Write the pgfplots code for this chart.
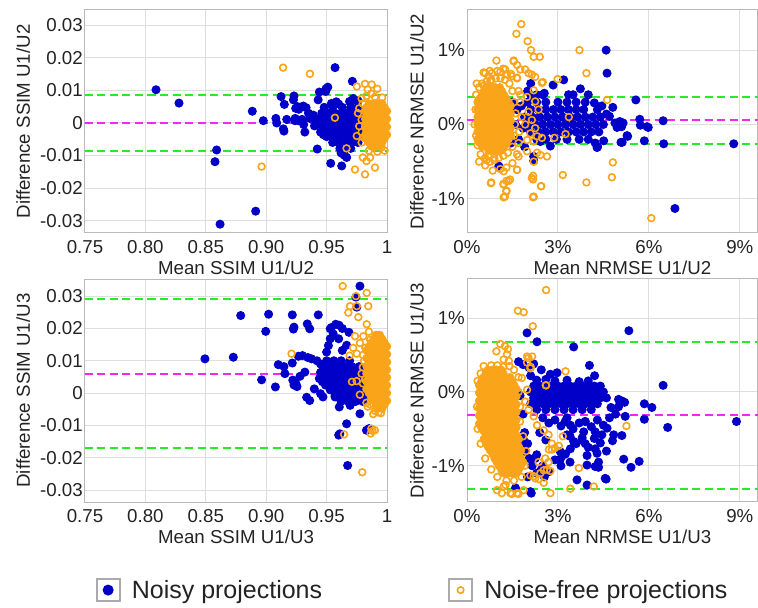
\documentclass[border=0pt]{standalone}
\usepackage{fontspec}
\setmainfont{Liberation Sans}
\usepackage{pgfplots}
\pgfplotsset{compat=1.18}
\definecolor{nblue}{RGB}{0,0,200}
\definecolor{norange}{RGB}{250,165,25}
\definecolor{lgreen}{RGB}{40,235,40}
\definecolor{lmag}{RGB}{240,40,240}
\definecolor{txt}{RGB}{35,35,35}
\definecolor{gridc}{RGB}{222,222,222}
\definecolor{framec}{RGB}{185,185,185}
\definecolor{legbox}{RGB}{170,170,170}
\pgfplotsset{
 ba/.style={scale only axis, anchor=south west,
  axis line style={framec, line width=1pt},
  grid=major, major grid style={gridc, line width=1pt},
  major tick length=0pt, scaled ticks=false,
  tick label style={font=\fontsize{18.7}{20}\selectfont, text=txt},
  xticklabel style={anchor=center, yshift=-14pt},
  yticklabel style={anchor=east, inner xsep=0pt, xshift=-2pt},
  every axis y label/.style={rotate=90, anchor=center, font=\fontsize{18.7}{20}\selectfont, text=txt},
  every axis x label/.style={anchor=center, font=\fontsize{18.7}{20}\selectfont, text=txt},
 },
 ssim/.style={ba, width=302pt, height=223pt, xmin=0.75, xmax=1.0,
  xtick={0.75,0.80,0.85,0.90,0.95,1}, xticklabels={0.75,0.80,0.85,0.90,0.95,1},
  ytick={-0.03,-0.02,-0.01,0,0.01,0.02,0.03}, yticklabels={-0.03,-0.02,-0.01,0,0.01,0.02,0.03},
  xlabel style={at={(axis description cs:0.5,0)}, yshift=-35pt},
  ylabel style={at={(axis description cs:-0.205,0.5)}}},
 nrmse/.style={ba, width=291pt, height=223pt, xmin=0, xmax=9.6,
  xtick={0,3,6,9}, xticklabels={0\%,3\%,6\%,9\%},
  ytick={-1,0,1}, yticklabels={-1\%,0\%,1\%},
  xlabel style={at={(axis description cs:0.534,0)}, yshift=-35pt},
  ylabel style={at={(axis description cs:-0.172,0.5)}}},
 noisy/.style={only marks, mark=*, mark size=4pt, color=nblue, mark options={draw=nblue, fill=nblue, line width=1pt}},
 nfree/.style={only marks, mark=o, mark size=3.4pt, color=norange, mark options={draw=norange, line width=1.6pt}},
 nfcore/.style={only marks, mark=*, mark size=3.4pt, color=norange, mark options={draw=norange, fill=norange, line width=1.6pt}, forget plot},
 gline/.style={lgreen, line width=2pt, dash pattern=on 8pt off 4.5pt, forget plot},
 mline/.style={lmag, line width=2pt, dash pattern=on 8pt off 4.5pt, forget plot},
}
\begin{document}
\begin{tikzpicture}
\path[use as bounding box] (0pt,0pt) rectangle (758pt,608pt);
% ---------------- Panel 1
\begin{axis}[ssim, at={(85pt,375pt)}, ymin=-0.0338, ymax=0.0347,
 xlabel={Mean SSIM U1/U2}, ylabel={Difference SSIM U1/U2}]
\addplot[noisy] coordinates {(0.8088,0.0102)(0.8278,0.0061)(0.8590,-0.0083)(0.8576,-0.0119)(0.8618,-0.0311)(0.8913,-0.0271)(0.8885,0.0036)(0.8976,0.0007)(0.9080,0.0014)(0.9087,0.0000)(0.9123,0.0081)(0.9150,0.0057)(0.9142,-0.0018)(0.9147,-0.0025)(0.9170,0.0011)(0.9230,0.0083)(0.9225,0.0071)(0.9244,0.0045)(0.9260,0.0050)(0.9240,0.0014)(0.9270,0.0042)(0.9296,0.0011)(0.9307,0.0052)(0.9330,0.0047)(0.9320,-0.0028)(0.9362,0.0014)(0.9390,0.0024)(0.9400,-0.0009)(0.9423,-0.0080)(0.9430,0.0071)(0.9440,0.0095)(0.9460,0.0019)(0.9473,-0.0036)(0.9495,0.0105)(0.9510,0.0110)(0.9534,-0.0124)(0.9570,0.0170)(0.9625,-0.0132)(0.9640,-0.0096)(0.9666,-0.0106)(0.9713,0.0128)(0.9690,0.0066)(0.9238,0.0007)(0.9266,0.0007)(0.9403,0.0014)(0.9418,-0.0005)(0.9450,-0.0028)(0.9493,0.0097)(0.9540,0.0060)(0.9580,0.0065)(0.9600,0.0058)(0.9650,-0.0100)(0.9620,-0.0092)(0.9700,0.0063)(0.9720,0.0075)(0.9760,0.0068)(0.9350,0.0030)(0.9310,-0.0005)
(0.948,0.0048)(0.955,0.0048)(0.963,0.0048)(0.970,0.0048)(0.976,0.0048)
(0.946,0.0030)(0.951,0.0030)(0.957,0.0030)(0.962,0.0030)(0.967,0.0030)(0.973,0.0030)(0.978,0.0030)
(0.944,0.0012)(0.949,0.0012)(0.954,0.0012)(0.960,0.0012)(0.965,0.0012)(0.970,0.0012)(0.975,0.0012)(0.980,0.0012)
(0.946,-0.0006)(0.951,-0.0006)(0.957,-0.0006)(0.962,-0.0006)(0.968,-0.0006)(0.973,-0.0006)(0.978,-0.0006)(0.983,-0.0006)
(0.948,-0.0024)(0.953,-0.0024)(0.959,-0.0024)(0.964,-0.0024)(0.970,-0.0024)(0.975,-0.0024)(0.980,-0.0024)
(0.950,-0.0042)(0.956,-0.0042)(0.961,-0.0042)(0.967,-0.0042)(0.972,-0.0042)(0.978,-0.0042)
(0.955,-0.0060)(0.960,-0.0060)(0.966,-0.0060)(0.971,-0.0060)(0.976,-0.0060)
(0.961,-0.0078)(0.966,-0.0078)(0.970,-0.0078)};
\addplot[nfcore] coordinates {
(0.985,0.0060)(0.989,0.0060)(0.992,0.0060)(0.996,0.0060)
(0.983,0.0048)(0.987,0.0048)(0.991,0.0048)(0.994,0.0048)(0.998,0.0048)
(0.982,0.0036)(0.985,0.0036)(0.989,0.0036)(0.992,0.0036)(0.996,0.0036)(1.000,0.0036)
(0.983,0.0024)(0.987,0.0024)(0.991,0.0024)(0.994,0.0024)(0.998,0.0024)
(0.982,0.0012)(0.985,0.0012)(0.989,0.0012)(0.992,0.0012)(0.996,0.0012)(1.000,0.0012)
(0.983,0.0000)(0.987,0.0000)(0.991,0.0000)(0.994,0.0000)(0.998,0.0000)
(0.982,-0.0012)(0.985,-0.0012)(0.989,-0.0012)(0.992,-0.0012)(0.996,-0.0012)(1.000,-0.0012)
(0.983,-0.0024)(0.987,-0.0024)(0.991,-0.0024)(0.994,-0.0024)(0.998,-0.0024)
(0.982,-0.0036)(0.985,-0.0036)(0.989,-0.0036)(0.992,-0.0036)(0.996,-0.0036)(1.000,-0.0036)
(0.983,-0.0048)(0.987,-0.0048)(0.991,-0.0048)(0.994,-0.0048)(0.998,-0.0048)
(0.985,-0.0060)(0.989,-0.0060)(0.992,-0.0060)(0.996,-0.0060)
(0.987,-0.0072)(0.991,-0.0072)(0.994,-0.0072)};
\addplot[nfree] coordinates {(0.9140,0.0170)(0.9362,0.0151)(0.8962,-0.0134)(0.9569,0.0016)(0.9750,0.0112)(0.9818,0.0120)(0.9840,0.0103)(0.9873,0.0118)(0.9920,0.0105)(0.9870,0.0090)(0.9665,-0.0078)(0.9735,-0.0143)(0.9818,-0.0158)(0.9800,-0.0106)(0.9830,-0.0117)(0.9860,-0.0106)(0.9900,-0.0137)(0.9956,-0.0075)(0.9770,0.0045)(0.9790,-0.0028)(0.9830,-0.0047)(0.9790,0.0075)(0.9830,0.0083)(0.9900,0.0080)(0.9960,0.0078)(0.9790,-0.0060)(0.9850,-0.0085)(0.9920,-0.0088)(0.9980,-0.0085)(0.9760,0.0030)(0.9770,-0.0010)(0.9750,-0.0040)(0.9800,0.0060)(0.9790,0.0010)(0.9810,-0.0045)};
\addplot[gline] coordinates {(0.75,0.0087)(1,0.0087)};
\addplot[gline] coordinates {(0.75,-0.0086)(1,-0.0086)};
\addplot[mline] coordinates {(0.75,0.0001)(1,0.0001)};
\end{axis}
% ---------------- Panel 2
\begin{axis}[nrmse, at={(467pt,375pt)}, ymin=-1.46, ymax=1.54,
 xlabel={Mean NRMSE U1/U2}, ylabel={Difference NRMSE U1/U2}]
\addplot[noisy] coordinates {(4.59,1.00)(4.62,0.69)(5.57,0.33)(6.47,0.05)(5.94,-0.03)(5.70,0.07)(5.72,-0.01)(5.28,-0.15)(5.85,-0.22)(6.49,-0.26)(8.80,-0.26)(6.86,-1.13)(5.12,-0.24)(4.51,-0.22)(4.29,-0.31)(4.81,0.23)(4.20,0.29)(3.74,0.48)(4.00,0.40)(3.19,0.60)(2.84,0.53)(2.10,0.55)(2.00,0.45)(2.11,0.39)(1.05,-0.56)(2.20,-0.49)(2.20,-0.43)(2.75,-0.29)(2.42,-0.23)(4.23,-0.25)(4.31,-0.30)(4.70,0.11)(4.60,0.14)(4.88,0.02)(5.04,0.04)(5.15,0.02)(4.95,-0.04)(5.10,-0.03)(5.30,-0.16)(5.08,-0.24)(5.98,-0.04)(4.45,0.25)(3.35,0.40)(2.55,0.42)
(1.50,0.30)(1.60,0.00)(1.70,-0.20)(1.45,-0.25)(1.65,0.20)(1.80,0.25)(1.85,-0.05)(1.90,-0.30)
(2.0,0.30)(2.3,0.30)(2.6,0.30)(3.0,0.30)(3.3,0.30)(3.6,0.30)(3.9,0.30)
(2.1,0.20)(2.35,0.20)(2.6,0.20)(2.85,0.20)(3.1,0.20)(3.35,0.20)(3.6,0.20)(3.85,0.20)(4.3,0.20)
(1.9,0.10)(2.15,0.10)(2.4,0.10)(2.65,0.10)(2.9,0.10)(3.15,0.10)(3.4,0.10)(3.65,0.10)(3.9,0.10)(4.15,0.10)(4.4,0.10)
(2.0,0.00)(2.25,0.00)(2.5,0.00)(2.75,0.00)(3.0,0.00)(3.25,0.00)(3.5,0.00)(3.75,0.00)(4.0,0.00)(4.25,0.00)(4.5,0.00)
(2.1,-0.10)(2.35,-0.10)(2.6,-0.10)(2.85,-0.10)(3.1,-0.10)(3.35,-0.10)(3.6,-0.10)(3.85,-0.10)(4.1,-0.10)(4.35,-0.10)
(2.3,-0.20)(2.6,-0.20)(2.95,-0.20)(3.3,-0.20)(3.7,-0.20)(4.0,-0.20)
(2.3,0.40)(2.5,0.40)(3.5,0.40)};
\addplot[nfcore] coordinates {
(0.64,0.50)(0.79,0.50)(0.93,0.50)(1.08,0.50)
(0.57,0.45)(0.71,0.45)(0.86,0.45)(1.00,0.45)(1.15,0.45)
(0.50,0.40)(0.64,0.40)(0.79,0.40)(0.93,0.40)(1.08,0.40)(1.22,0.40)
(0.42,0.35)(0.57,0.35)(0.71,0.35)(0.86,0.35)(1.00,0.35)(1.15,0.35)(1.29,0.35)
(0.35,0.30)(0.50,0.30)(0.64,0.30)(0.79,0.30)(0.93,0.30)(1.08,0.30)(1.22,0.30)(1.37,0.30)
(0.42,0.25)(0.57,0.25)(0.71,0.25)(0.86,0.25)(1.00,0.25)(1.15,0.25)(1.29,0.25)(1.44,0.25)
(0.35,0.20)(0.50,0.20)(0.64,0.20)(0.79,0.20)(0.93,0.20)(1.08,0.20)(1.22,0.20)(1.37,0.20)
(0.42,0.15)(0.57,0.15)(0.71,0.15)(0.86,0.15)(1.00,0.15)(1.15,0.15)(1.29,0.15)(1.44,0.15)
(0.35,0.10)(0.50,0.10)(0.64,0.10)(0.79,0.10)(0.93,0.10)(1.08,0.10)(1.22,0.10)(1.37,0.10)
(0.42,0.05)(0.57,0.05)(0.71,0.05)(0.86,0.05)(1.00,0.05)(1.15,0.05)(1.29,0.05)(1.44,0.05)
(0.35,0.00)(0.50,0.00)(0.64,0.00)(0.79,0.00)(0.93,0.00)(1.08,0.00)(1.22,0.00)(1.37,0.00)
(0.42,-0.05)(0.57,-0.05)(0.71,-0.05)(0.86,-0.05)(1.00,-0.05)(1.15,-0.05)(1.29,-0.05)(1.44,-0.05)
(0.35,-0.10)(0.50,-0.10)(0.64,-0.10)(0.79,-0.10)(0.93,-0.10)(1.08,-0.10)(1.22,-0.10)(1.37,-0.10)
(0.42,-0.15)(0.57,-0.15)(0.71,-0.15)(0.86,-0.15)(1.00,-0.15)(1.15,-0.15)(1.29,-0.15)(1.44,-0.15)
(0.35,-0.20)(0.50,-0.20)(0.64,-0.20)(0.79,-0.20)(0.93,-0.20)(1.08,-0.20)(1.22,-0.20)(1.37,-0.20)
(0.42,-0.25)(0.57,-0.25)(0.71,-0.25)(0.86,-0.25)(1.00,-0.25)(1.15,-0.25)(1.29,-0.25)
(0.50,-0.30)(0.64,-0.30)(0.79,-0.30)(0.93,-0.30)(1.08,-0.30)(1.22,-0.30)
(0.71,-0.35)(0.86,-0.35)(1.00,-0.35)(1.15,-0.35)};
\addplot[nfree] coordinates {(1.79,1.35)(1.63,1.22)(2.00,1.12)(2.11,1.00)(2.20,0.91)(2.40,0.91)(0.97,0.86)(1.54,0.86)(3.71,1.00)(3.94,0.69)(2.99,0.61)(2.50,0.57)(4.62,0.33)(3.36,0.10)(3.25,-0.13)(4.81,-0.51)(4.78,-0.71)(3.94,-0.78)(3.16,-0.68)(2.45,-0.83)(2.18,-0.69)(2.18,-0.74)(2.20,-0.97)(0.80,-0.78)(1.20,-0.80)(1.30,-0.76)(1.42,-0.74)(1.30,-0.89)(1.25,-0.97)(1.65,-0.61)(6.08,-1.26)
(1.70,-0.43)(1.98,-0.36)(2.31,-0.38)(2.42,-0.41)(2.20,-0.50)(2.14,-0.72)(2.44,-0.83)(2.18,-0.98)(1.21,-0.63)(1.65,-0.61)(1.37,-0.76)(1.21,-0.81)(1.30,-0.90)(1.21,-0.98)(0.79,-0.79)(0.75,-0.50)(0.90,-0.45)(0.65,-0.48)(0.70,-0.43)(2.88,-0.18)(1.76,0.40)(1.98,0.37)(2.20,0.46)(2.25,0.31)(2.36,0.20)(2.03,0.17)(2.14,0.06)(1.92,0.00)(2.25,-0.05)(2.09,-0.12)(2.31,-0.16)(2.20,-0.23)(2.47,-0.18)(1.98,-0.21)(2.64,-0.43)
(1.54,0.85)(1.65,0.80)(1.76,0.74)(1.92,0.74)(2.03,0.69)(2.14,0.67)(2.25,0.64)(0.60,0.69)(0.71,0.65)(0.82,0.69)(1.10,0.71)(1.26,0.74)(1.32,0.67)(1.48,0.65)(1.65,0.63)(0.55,0.52)(0.77,0.58)(2.47,0.56)
(0.30,0.40)(0.28,0.20)(0.25,0.00)(0.30,-0.15)(0.35,-0.28)(0.45,-0.40)(0.60,-0.45)(0.75,-0.50)(0.90,-0.48)(1.05,-0.45)(1.20,-0.42)(1.35,-0.38)(1.50,-0.30)(1.55,-0.15)(1.58,0.00)(1.60,0.15)(1.55,0.30)(1.50,0.45)(1.40,0.55)(1.25,0.60)(1.10,0.62)(0.95,0.62)(0.80,0.60)(0.65,0.58)(0.50,0.55)(0.40,0.50)
(0.55,0.70)(0.75,0.72)(1.00,0.72)(1.20,0.75)(1.45,0.68)(1.65,0.62)(1.70,0.45)(1.75,0.30)(1.80,0.10)(1.72,-0.10)(1.70,-0.25)(1.65,-0.40)(1.50,-0.52)(1.30,-0.58)(1.10,-0.60)(0.85,-0.62)(0.60,-0.55)(0.40,-0.50)(0.32,0.55)};
\addplot[gline] coordinates {(0,0.375)(9.6,0.375)};
\addplot[gline] coordinates {(0,-0.265)(9.6,-0.265)};
\addplot[mline] coordinates {(0,0.055)(9.6,0.055)};
\end{axis}
% ---------------- Panel 3
\begin{axis}[ssim, at={(85pt,106pt)}, ymin=-0.0337, ymax=0.0353,
 xlabel={Mean SSIM U1/U3}, ylabel={Difference SSIM U1/U3},
 legend style={at={(axis description cs:0.025,-0.395)}, anchor=west, draw=none, fill=none,
  font=\fontsize{25}{28}\selectfont, text=txt, legend columns=2,
  /tikz/every even column/.append style={column sep=124pt}},
 legend cell align=left,
 legend image code/.code={\draw[draw=legbox, line width=1.8pt, fill=white] (0pt,-11pt) rectangle (23pt,11pt);
  \draw[#1] plot coordinates {(11.5pt,0pt)};\path (33pt,0pt);}]
\addplot[noisy, legend image post style={mark size=5pt}] coordinates {(0.8493,0.0106)(0.8728,0.0111)(0.8789,0.0240)(0.8996,0.0191)(0.9020,0.0244)(0.8962,0.0041)(0.9076,0.0019)(0.9100,0.0088)(0.9147,0.0082)(0.9155,0.0060)(0.9216,0.0242)(0.9230,0.0204)(0.9225,0.0198)(0.9216,0.0093)(0.9220,0.0040)(0.9245,0.0030)(0.9255,0.0020)(0.9230,0.0025)(0.9266,0.0114)(0.9300,0.0116)(0.9345,0.0110)(0.9375,0.0106)(0.9340,0.0214)(0.9360,0.0199)(0.9280,0.0052)(0.9320,0.0065)(0.9335,-0.0013)(0.9360,-0.0023)(0.9398,0.0013)(0.9431,0.0242)(0.9420,0.0100)(0.9450,0.0090)(0.9475,0.0080)(0.9440,0.0045)(0.9465,0.0035)(0.9490,0.0025)(0.9450,-0.0002)(0.9470,-0.0012)(0.9500,0.0127)(0.9515,0.0147)(0.9530,0.0168)(0.9555,0.0183)(0.9530,0.0199)(0.9570,-0.0012)(0.9605,-0.0043)(0.9610,-0.0126)(0.9600,-0.0130)(0.9666,-0.0095)(0.9674,-0.0224)(0.9666,0.0148)(0.9630,0.0132)(0.9600,0.0168)(0.9685,0.0188)(0.9710,-0.0028)(0.9695,-0.0038)(0.9776,0.0331)(0.9750,0.0266)(0.9743,0.0297)(0.9776,-0.0064)(0.9850,-0.0110)(0.9830,-0.0115)(0.9576,0.0213)(0.9603,0.0210)(0.9630,0.0200)(0.9540,0.0203)
(0.950,0.0100)(0.956,0.0100)(0.962,0.0100)(0.969,0.0100)
(0.947,0.0082)(0.953,0.0082)(0.959,0.0082)(0.965,0.0082)(0.971,0.0082)(0.977,0.0082)
(0.945,0.0064)(0.950,0.0064)(0.956,0.0064)(0.962,0.0064)(0.968,0.0064)(0.974,0.0064)(0.980,0.0064)
(0.947,0.0046)(0.953,0.0046)(0.959,0.0046)(0.965,0.0046)(0.971,0.0046)(0.977,0.0046)(0.983,0.0046)
(0.950,0.0028)(0.956,0.0028)(0.962,0.0028)(0.968,0.0028)(0.974,0.0028)(0.980,0.0028)
(0.953,0.0010)(0.959,0.0010)(0.965,0.0010)(0.971,0.0010)(0.977,0.0010)(0.983,0.0010)
(0.957,-0.0008)(0.963,-0.0008)(0.969,-0.0008)(0.975,-0.0008)(0.981,-0.0008)
(0.962,-0.0026)(0.968,-0.0026)(0.974,-0.0026)(0.980,-0.0026)};
\addlegendentry{Noisy projections}
\addplot[nfree, legend image post style={mark size=3.2pt}] coordinates {(0.9633,0.0331)(0.9210,0.0122)(0.9645,-0.0128)(0.9795,-0.0245)(0.9743,0.0300)(0.9832,0.0310)(0.9845,0.0269)(0.9694,0.0269)(0.9750,0.0269)(0.9680,0.0249)(0.9763,0.0235)(0.9832,0.0213)(0.9735,0.0176)(0.9804,0.0176)(0.9720,0.0140)(0.9776,0.0155)(0.9750,0.0122)(0.9690,0.0116)(0.9749,0.0037)(0.9818,0.0042)(0.9710,0.0035)(0.9800,0.0030)(0.9775,-0.0005)(0.9859,-0.0035)(0.9830,-0.0030)(0.9886,-0.0065)(0.9900,-0.0055)(0.9930,-0.0060)(0.9950,-0.0062)(0.9870,-0.0110)(0.9880,-0.0117)(0.9900,-0.0115)(0.9865,-0.0125)(0.9840,-0.0042)(0.9800,0.0080)(0.9810,0.0100)(0.9790,0.0060)(0.9860,0.0165)(0.9850,0.0190)(0.9820,0.0140)(0.9800,0.0118)};
\addlegendentry{Noise-free projections}
\addplot[nfcore] coordinates {
(0.991,0.0180)(0.994,0.0180)
(0.989,0.0168)(0.992,0.0168)(0.996,0.0168)
(0.987,0.0156)(0.991,0.0156)(0.994,0.0156)(0.998,0.0156)
(0.985,0.0144)(0.989,0.0144)(0.992,0.0144)(0.996,0.0144)(1.000,0.0144)
(0.983,0.0132)(0.987,0.0132)(0.991,0.0132)(0.994,0.0132)(0.998,0.0132)
(0.985,0.0120)(0.989,0.0120)(0.992,0.0120)(0.996,0.0120)(1.000,0.0120)
(0.983,0.0108)(0.987,0.0108)(0.991,0.0108)(0.994,0.0108)(0.998,0.0108)
(0.985,0.0096)(0.989,0.0096)(0.992,0.0096)(0.996,0.0096)(1.000,0.0096)
(0.983,0.0084)(0.987,0.0084)(0.991,0.0084)(0.994,0.0084)(0.998,0.0084)
(0.985,0.0072)(0.989,0.0072)(0.992,0.0072)(0.996,0.0072)(1.000,0.0072)
(0.983,0.0060)(0.987,0.0060)(0.991,0.0060)(0.994,0.0060)(0.998,0.0060)
(0.985,0.0048)(0.989,0.0048)(0.992,0.0048)(0.996,0.0048)(1.000,0.0048)
(0.983,0.0036)(0.987,0.0036)(0.991,0.0036)(0.994,0.0036)(0.998,0.0036)
(0.985,0.0024)(0.989,0.0024)(0.992,0.0024)(0.996,0.0024)(1.000,0.0024)
(0.983,0.0012)(0.987,0.0012)(0.991,0.0012)(0.994,0.0012)(0.998,0.0012)
(0.985,0.0000)(0.989,0.0000)(0.992,0.0000)(0.996,0.0000)(1.000,0.0000)
(0.987,-0.0012)(0.991,-0.0012)(0.994,-0.0012)(0.998,-0.0012)
(0.989,-0.0024)(0.992,-0.0024)(0.996,-0.0024)(1.000,-0.0024)
(0.991,-0.0036)(0.994,-0.0036)(0.998,-0.0036)
(0.992,-0.0048)(0.996,-0.0048)};
\addplot[gline] coordinates {(0.75,0.029)(1,0.029)};
\addplot[gline] coordinates {(0.75,-0.0169)(1,-0.0169)};
\addplot[mline] coordinates {(0.75,0.006)(1,0.006)};
\end{axis}
% ---------------- Panel 4
\begin{axis}[nrmse, at={(467pt,106pt)}, ymin=-1.49, ymax=1.53,
 xlabel={Mean NRMSE U1/U3}, ylabel={Difference NRMSE U1/U3}]
\addplot[noisy] coordinates {(1.98,0.80)(2.31,0.68)(3.52,0.61)(5.34,0.83)(6.47,0.09)(4.04,0.36)(4.21,0.22)(2.97,0.26)(2.75,0.24)(2.45,0.30)(2.20,0.38)(2.05,0.33)(1.85,0.37)(1.70,0.41)(5.85,-0.16)(6.10,-0.21)(5.85,-0.37)(6.62,-0.48)(8.89,-0.40)(5.00,-0.10)(5.10,-0.12)(5.20,-0.14)(5.00,-0.20)(4.75,-0.21)(5.22,-0.33)(5.11,-0.59)(5.68,-0.94)(5.41,-1.02)(5.17,-0.91)(4.59,-1.18)(4.34,-1.02)(3.96,-0.86)(4.23,-0.77)(4.40,-0.69)(3.96,-1.26)(2.12,-1.37)(3.08,-0.91)(3.25,-0.84)(3.41,-0.77)(3.24,-0.40)(3.41,-0.45)(3.90,-0.40)(3.85,-0.54)(4.23,-0.54)(4.45,-0.58)(4.62,-0.49)(4.84,-0.58)(3.30,-0.58)(3.52,-0.67)(3.79,-0.65)(3.90,-0.70)(3.08,-0.81)(3.19,-0.85)(4.29,-0.83)(4.34,-0.95)(4.23,-1.01)(3.96,-0.99)(4.56,-1.17)(3.63,-1.19)(2.09,-1.35)
(2.15,-1.00)(2.30,-1.10)(2.45,-1.05)(2.55,-1.15)(2.70,-1.08)(2.25,-0.90)(1.85,-0.63)(2.00,-0.70)(1.90,-0.80)(2.05,-0.90)(1.80,-0.95)
(2.50,-0.35)(2.70,-0.42)(2.90,-0.38)(3.10,-0.46)(3.30,-0.35)(3.50,-0.50)(3.70,-0.42)(3.90,-0.40)(4.10,-0.47)(4.30,-0.38)(4.50,-0.45)(4.70,-0.35)(4.90,-0.30)(3.40,-0.60)(3.60,-0.70)(3.80,-0.62)(4.00,-0.75)(4.20,-0.63)(4.60,-0.80)(4.80,-0.66)(2.40,-0.55)(2.60,-0.65)(2.90,-0.92)(3.10,-1.00)(3.40,-0.95)(2.30,-0.85)(2.50,-1.00)
(2.3,0.16)(2.6,0.17)(2.9,0.15)(3.3,0.16)(3.7,0.14)(4.0,0.15)(2.10,0.22)
(2.2,0.08)(2.4,0.08)(2.6,0.08)(2.8,0.08)(3.0,0.08)(3.2,0.08)(3.4,0.08)(3.6,0.08)(3.8,0.08)(4.0,0.08)(4.2,0.08)(4.4,0.08)
(2.1,0.00)(2.3,0.00)(2.5,0.00)(2.7,0.00)(2.9,0.00)(3.1,0.00)(3.3,0.00)(3.5,0.00)(3.7,0.00)(3.9,0.00)(4.1,0.00)(4.3,0.00)(4.5,0.00)
(2.2,-0.08)(2.4,-0.08)(2.6,-0.08)(2.8,-0.08)(3.0,-0.08)(3.2,-0.08)(3.4,-0.08)(3.6,-0.08)(3.8,-0.08)(4.0,-0.08)(4.2,-0.08)(4.4,-0.08)(4.6,-0.08)
(2.1,-0.16)(2.3,-0.16)(2.5,-0.16)(2.7,-0.16)(2.9,-0.16)(3.1,-0.16)(3.3,-0.16)(3.5,-0.16)(3.7,-0.16)(3.9,-0.16)(4.1,-0.16)(4.3,-0.16)
(2.3,-0.24)(2.6,-0.24)(2.9,-0.24)(3.2,-0.24)(3.5,-0.24)(3.8,-0.24)(4.1,-0.24)
(1.75,-0.05)(1.85,-0.30)(1.90,-0.55)(1.80,-0.70)(1.70,-1.00)(2.00,-1.15)(1.60,-1.30)};
\addplot[nfcore] coordinates {
(0.69,0.30)(0.84,0.30)(0.98,0.30)(1.13,0.30)
(0.62,0.25)(0.76,0.25)(0.91,0.25)(1.05,0.25)(1.20,0.25)
(0.55,0.20)(0.69,0.20)(0.84,0.20)(0.98,0.20)(1.13,0.20)(1.27,0.20)(1.42,0.20)
(0.47,0.14)(0.62,0.14)(0.76,0.14)(0.91,0.14)(1.05,0.14)(1.20,0.14)(1.34,0.14)(1.49,0.14)
(0.40,0.09)(0.55,0.09)(0.69,0.09)(0.84,0.09)(0.98,0.09)(1.13,0.09)(1.27,0.09)(1.42,0.09)(1.56,0.09)
(0.47,0.04)(0.62,0.04)(0.76,0.04)(0.91,0.04)(1.05,0.04)(1.20,0.04)(1.34,0.04)(1.49,0.04)(1.63,0.04)
(0.40,-0.01)(0.55,-0.01)(0.69,-0.01)(0.84,-0.01)(0.98,-0.01)(1.13,-0.01)(1.27,-0.01)(1.42,-0.01)(1.56,-0.01)
(0.47,-0.06)(0.62,-0.06)(0.76,-0.06)(0.91,-0.06)(1.05,-0.06)(1.20,-0.06)(1.34,-0.06)(1.49,-0.06)(1.63,-0.06)
(0.40,-0.12)(0.55,-0.12)(0.69,-0.12)(0.84,-0.12)(0.98,-0.12)(1.13,-0.12)(1.27,-0.12)(1.42,-0.12)(1.56,-0.12)
(0.47,-0.17)(0.62,-0.17)(0.76,-0.17)(0.91,-0.17)(1.05,-0.17)(1.20,-0.17)(1.34,-0.17)(1.49,-0.17)(1.63,-0.17)
(0.40,-0.22)(0.55,-0.22)(0.69,-0.22)(0.84,-0.22)(0.98,-0.22)(1.13,-0.22)(1.27,-0.22)(1.42,-0.22)(1.56,-0.22)
(0.47,-0.27)(0.62,-0.27)(0.76,-0.27)(0.91,-0.27)(1.05,-0.27)(1.20,-0.27)(1.34,-0.27)(1.49,-0.27)(1.63,-0.27)
(0.40,-0.32)(0.55,-0.32)(0.69,-0.32)(0.84,-0.32)(0.98,-0.32)(1.13,-0.32)(1.27,-0.32)(1.42,-0.32)(1.56,-0.32)
(0.47,-0.38)(0.62,-0.38)(0.76,-0.38)(0.91,-0.38)(1.05,-0.38)(1.20,-0.38)(1.34,-0.38)(1.49,-0.38)(1.63,-0.38)
(0.40,-0.43)(0.55,-0.43)(0.69,-0.43)(0.84,-0.43)(0.98,-0.43)(1.13,-0.43)(1.27,-0.43)(1.42,-0.43)(1.56,-0.43)
(0.47,-0.48)(0.62,-0.48)(0.76,-0.48)(0.91,-0.48)(1.05,-0.48)(1.20,-0.48)(1.34,-0.48)(1.49,-0.48)(1.63,-0.48)
(0.55,-0.53)(0.69,-0.53)(0.84,-0.53)(0.98,-0.53)(1.13,-0.53)(1.27,-0.53)(1.42,-0.53)(1.56,-0.53)
(0.62,-0.58)(0.76,-0.58)(0.91,-0.58)(1.05,-0.58)(1.20,-0.58)(1.34,-0.58)(1.49,-0.58)(1.63,-0.58)
(0.55,-0.64)(0.69,-0.64)(0.84,-0.64)(0.98,-0.64)(1.13,-0.64)(1.27,-0.64)(1.42,-0.64)(1.56,-0.64)(1.71,-0.64)
(0.62,-0.69)(0.76,-0.69)(0.91,-0.69)(1.05,-0.69)(1.20,-0.69)(1.34,-0.69)(1.49,-0.69)(1.63,-0.69)
(0.69,-0.74)(0.84,-0.74)(0.98,-0.74)(1.13,-0.74)(1.27,-0.74)(1.42,-0.74)(1.56,-0.74)(1.71,-0.74)
(0.76,-0.79)(0.91,-0.79)(1.05,-0.79)(1.20,-0.79)(1.34,-0.79)(1.49,-0.79)(1.63,-0.79)(1.78,-0.79)
(0.84,-0.84)(0.98,-0.84)(1.13,-0.84)(1.27,-0.84)(1.42,-0.84)(1.56,-0.84)(1.71,-0.84)
(0.91,-0.90)(1.05,-0.90)(1.20,-0.90)(1.34,-0.90)(1.49,-0.90)(1.63,-0.90)(1.78,-0.90)
(0.98,-0.95)(1.13,-0.95)(1.27,-0.95)(1.42,-0.95)(1.56,-0.95)(1.71,-0.95)(1.85,-0.95)
(1.05,-1.00)(1.20,-1.00)(1.34,-1.00)(1.49,-1.00)(1.63,-1.00)(1.78,-1.00)
(1.13,-1.05)(1.27,-1.05)(1.42,-1.05)(1.56,-1.05)(1.71,-1.05)
(1.20,-1.10)(1.34,-1.10)(1.49,-1.10)(1.63,-1.10)};
\addplot[nfree] coordinates {(2.61,1.38)(1.68,1.10)(1.87,1.08)(2.17,0.89)(1.10,0.65)(1.25,0.62)(1.35,0.58)(0.97,0.55)(1.32,0.51)(1.21,0.44)(1.38,0.42)(1.98,0.48)(2.15,0.48)(1.98,0.40)(2.10,0.34)(3.25,0.28)(2.61,0.09)(5.26,-0.46)(3.69,-1.03)(3.16,-0.60)(3.03,-0.73)(2.90,-0.76)(2.80,-0.78)(2.70,-0.78)(3.41,-1.31)(4.18,-1.28)(2.75,-1.37)(2.53,-1.23)(2.37,-1.18)(2.20,-1.14)(2.42,-1.10)(2.64,-1.05)(2.75,-1.07)(1.27,-1.26)(1.43,-1.37)(1.65,-1.37)(1.87,-1.33)(1.15,-1.37)
(2.03,0.46)(2.09,0.32)(1.81,0.19)(1.98,0.03)(1.92,-0.13)(2.03,-0.24)(2.20,-0.33)(2.31,-0.45)(2.53,-0.52)(2.69,-0.58)(2.80,-0.70)(2.58,-0.90)(2.36,-0.95)(2.69,-0.95)(2.53,-1.06)(2.09,-1.13)(2.25,-1.17)(2.60,0.09)(1.48,-1.38)(1.70,-1.38)(1.21,-1.28)(0.99,-1.33)
(0.35,0.15)(0.33,-0.20)(0.35,-0.50)(0.45,-0.70)(0.60,-0.90)(0.80,-1.05)(1.00,-1.15)(1.30,-1.20)(1.55,-1.20)(1.80,-1.15)(1.90,-1.00)(1.95,-0.80)(1.85,-0.60)(1.75,-0.40)(1.75,-0.20)(1.70,0.00)(1.70,0.20)(1.55,0.30)(1.40,0.35)(0.55,0.35)(0.45,0.25)(0.80,0.36)(1.00,0.36)(1.20,0.34)};
\addplot[gline] coordinates {(0,0.68)(9.6,0.68)};
\addplot[gline] coordinates {(0,-1.31)(9.6,-1.31)};
\addplot[mline] coordinates {(0,-0.31)(9.6,-0.31)};
\end{axis}
\end{tikzpicture}
\end{document}
